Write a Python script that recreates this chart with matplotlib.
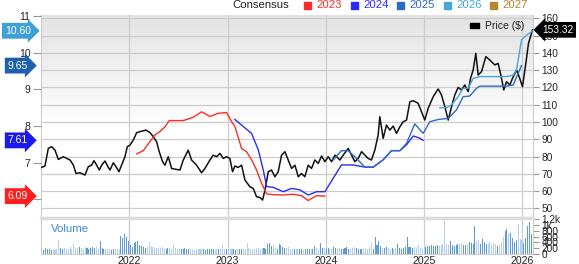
import numpy as np
import matplotlib
matplotlib.use("Agg")
import matplotlib.pyplot as plt
from matplotlib.colors import LinearSegmentedColormap
from matplotlib.transforms import blended_transform_factory

plt.rcParams['font.family'] = ['Liberation Sans', 'DejaVu Sans']

# price ($), right axis
price_t = [2021.108, 2021.142, 2021.176, 2021.210, 2021.244, 2021.278, 2021.329, 2021.363, 2021.397, 2021.431,
           2021.458, 2021.498, 2021.549, 2021.583, 2021.617, 2021.641, 2021.668, 2021.695, 2021.719, 2021.753,
           2021.787, 2021.804, 2021.838, 2021.865, 2021.895, 2021.922, 2021.956, 2021.980, 2022.007, 2022.041,
           2022.075, 2022.109, 2022.170, 2022.211, 2022.244, 2022.278, 2022.305, 2022.339, 2022.363, 2022.397,
           2022.431, 2022.482, 2022.516, 2022.550, 2022.600, 2022.634, 2022.685, 2022.736, 2022.770, 2022.821,
           2022.855, 2022.889, 2022.923, 2022.957, 2022.990, 2023.024, 2023.051, 2023.075, 2023.109, 2023.143,
           2023.177, 2023.228, 2023.262, 2023.296, 2023.330, 2023.357, 2023.381, 2023.415, 2023.448, 2023.482,
           2023.516, 2023.550, 2023.584, 2023.618, 2023.652, 2023.686, 2023.720, 2023.753, 2023.787, 2023.821,
           2023.855, 2023.889, 2023.923, 2023.957, 2023.991, 2024.025, 2024.059, 2024.093, 2024.144, 2024.177,
           2024.228, 2024.262, 2024.296, 2024.330, 2024.364, 2024.398, 2024.431, 2024.465, 2024.499, 2024.533,
           2024.550, 2024.584, 2024.618, 2024.652, 2024.686, 2024.720, 2024.754, 2024.788, 2024.822, 2024.856,
           2024.890, 2024.940, 2024.974, 2025.008, 2025.042, 2025.093, 2025.144, 2025.178, 2025.212, 2025.246,
           2025.280, 2025.313, 2025.347, 2025.381, 2025.415, 2025.449, 2025.473, 2025.500, 2025.527, 2025.551,
           2025.585, 2025.629, 2025.670, 2025.720, 2025.754, 2025.778, 2025.812, 2025.839, 2025.873, 2025.900,
           2025.941, 2025.968, 2026.002, 2026.036, 2026.063, 2026.104]
price_v = [73.7, 74.5, 84.7, 85.7, 83.7, 78.3, 79.9, 78.9, 78.0, 75.0,
           70.2, 70.6, 69.3, 74.1, 75.0, 77.6, 75.0, 72.2, 75.0, 77.4,
           73.7, 72.2, 76.4, 74.1, 71.2, 75.0, 79.9, 85.7, 86.6, 89.5,
           93.8, 94.4, 95.3, 93.8, 91.5, 88.6, 82.8, 77.0, 75.0, 79.9,
           73.1, 72.5, 72.2, 78.0, 83.7, 78.0, 75.0, 70.6, 73.1, 78.0,
           80.8, 79.9, 81.8, 78.9, 79.9, 78.9, 71.2, 74.5, 73.7, 75.0,
           66.4, 62.5, 61.5, 56.7, 56.3, 54.8, 60.6, 71.2, 72.2, 68.3,
           71.2, 80.8, 82.8, 78.0, 73.1, 75.0, 68.3, 70.2, 68.3, 75.0,
           73.1, 78.0, 76.0, 80.3, 77.0, 79.9, 77.0, 80.8, 78.0, 80.8,
           84.7, 80.8, 77.0, 78.9, 82.8, 80.8, 78.9, 78.0, 83.7, 92.4,
           103.0, 90.5, 98.2, 95.3, 97.6, 93.4, 97.2, 100.1, 101.1, 111.7,
           112.3, 110.8, 106.0, 101.1, 107.9, 114.6, 119.1, 115.6, 108.8, 101.1,
           108.8, 115.6, 120.0, 118.5, 121.4, 117.5, 125.2, 130.1, 139.7, 127.2,
           129.1, 137.8, 135.8, 133.0, 133.9, 128.1, 118.5, 123.3, 121.4, 125.2,
           130.1, 126.2, 120.4, 133.9, 145.5, 153.32]

# consensus EPS estimates, left axis
c2023_t = [2022.075, 2022.143, 2022.211, 2022.261, 2022.312, 2022.363, 2022.407, 2022.550, 2022.651, 2022.736,
           2022.821, 2022.906, 2022.990, 2023.041, 2023.075, 2023.143, 2023.194, 2023.245, 2023.296, 2023.347,
           2023.398, 2023.465, 2023.567, 2023.669, 2023.754, 2023.821, 2023.906, 2023.991]
c2023_v = [7.24, 7.33, 7.58, 7.76, 7.85, 7.98, 8.15, 8.15, 8.24, 8.39,
           8.26, 8.35, 8.37, 8.12, 7.99, 7.39, 7.30, 7.08, 6.80, 6.44,
           6.15, 6.13, 6.12, 6.14, 6.10, 5.97, 6.10, 6.09]
c2024_t = [2023.075, 2023.160, 2023.245, 2023.313, 2023.364, 2023.398, 2023.465, 2023.567, 2023.652, 2023.737,
           2023.821, 2023.906, 2023.991, 2024.076, 2024.160, 2024.279, 2024.398, 2024.483, 2024.584, 2024.669,
           2024.754, 2024.822, 2024.890, 2024.957, 2024.990]
c2024_v = [8.18, 7.99, 7.80, 7.35, 6.80, 6.35, 6.33, 6.21, 6.30, 6.26,
           6.12, 6.21, 6.21, 6.58, 6.94, 6.94, 6.88, 6.88, 7.08, 7.33,
           7.33, 7.49, 7.73, 7.67, 7.61]
c2025_t = [2024.076, 2024.160, 2024.228, 2024.313, 2024.398, 2024.483, 2024.584, 2024.669, 2024.754, 2024.822,
           2024.906, 2024.991, 2025.059, 2025.144, 2025.246, 2025.330, 2025.398, 2025.466, 2025.534, 2025.568,
           2025.670, 2025.839, 2025.907, 2025.992]
c2025_v = [7.08, 7.33, 7.33, 7.12, 6.88, 6.88, 7.08, 7.33, 7.33, 7.53,
           8.06, 7.80, 8.12, 8.18, 8.21, 8.44, 8.80, 8.82, 9.03, 9.09,
           9.09, 9.09, 9.12, 9.65]
c2026_t = [2025.161, 2025.229, 2025.280, 2025.347, 2025.398, 2025.449, 2025.500, 2025.568, 2025.670, 2025.839,
           2025.907, 2025.941, 2025.992, 2026.042, 2026.110]
c2026_v = [8.50, 8.50, 8.58, 8.80, 9.03, 9.03, 9.30, 9.35, 9.35, 9.35,
           9.39, 9.53, 10.35, 10.48, 10.60]

# weekly volume, starting Feb 2021
volume = [170, 150, 200, 160, 180, 140, 190, 150, 170, 480, 200, 190, 210,
          170, 160, 230, 180, 350, 220, 200, 240, 210, 190, 230, 200, 180,
          220, 250, 200, 230, 190, 440, 210, 180, 170, 160, 190, 150, 170,
          160, 180, 150, 630, 560, 690, 600, 460, 300, 250, 380, 420, 450,
          300, 260, 230, 200, 240, 420, 280, 230, 250, 210, 220, 200, 230,
          210, 190, 200, 220, 180, 330, 200, 170, 190, 180, 160, 200, 170,
          160, 180, 170, 150, 190, 160, 170, 180, 160, 150, 170, 190, 160,
          180, 150, 170, 190, 170, 330, 180, 160, 150, 170, 160, 180, 150,
          170, 160, 190, 170, 180, 370, 200, 180, 170, 190, 210, 200, 190,
          220, 200, 190, 350, 370, 280, 300, 210, 190, 330, 300, 240, 220,
          200, 230, 180, 170, 160, 180, 190, 170, 160, 150, 180, 170, 160,
          190, 180, 290, 200, 180, 370, 220, 200, 180, 200, 170, 190, 230,
          200, 180, 210, 190, 170, 200, 250, 180, 170, 210, 250, 200, 190,
          160, 180, 170, 200, 190, 230, 380, 180, 580, 300, 460, 260, 200,
          210, 230, 200, 190, 220, 180, 200, 330, 210, 190, 220, 240, 600,
          250, 230, 220, 240, 230, 300, 200, 180, 230, 250, 280, 270, 300,
          260, 290, 320, 280, 300, 330, 1140, 350, 300, 460, 320, 280, 300,
          350, 330, 380, 320, 300, 360, 420, 380, 340, 980, 400, 470, 360,
          520, 400, 350, 330, 420, 300, 380, 330, 280, 300, 420, 600, 780,
          860, 700, 720, 540, 420, 500, 1040, 520, 480, 380, 560, 980, 1100,
          700, 600]
vol_start = 2021.11

years = [2022, 2023, 2024, 2025, 2026]
vol_ticks = [0, 200, 400, 600, 800, 1000, 1200]
vol_labels = ['0', '200', '400', '600', '800', '1k', '1.2k']

W, H = 579, 264
fig = plt.figure(figsize=(W / 100, H / 100), dpi=100)

def fx(px):
    return px / W

def fy(py):
    return 1 - py / H

x0, x1 = 2021.1017, 2026.109
ax = fig.add_axes([fx(41), fy(217), fx(533) - fx(41), fy(15) - fy(217)])
axv = fig.add_axes([fx(41), fy(254), fx(533) - fx(41), fy(218) - fy(254)])
axL = ax.twinx()

# gradient background
grad = np.clip((np.linspace(0, 1, 256) - 0.45) / 0.55, 0, 1).reshape(-1, 1)
cmap = LinearSegmentedColormap.from_list('bg', ['#ffffff', '#e3e3e3'])
ax.imshow(grad, extent=[x0, x1, 45.0, 161.9], origin='lower', aspect='auto', cmap=cmap, zorder=0)

ax.set_xlim(x0, x1)
ax.set_ylim(45.0, 161.9)
axL.set_ylim(5.52, 11.03)
axL.set_xlim(x0, x1)

ax.set_axisbelow(True)
ax.set_yticks(range(50, 161, 10))
ax.set_xticks(years)
ax.grid(True, color='#cccccc', lw=0.9)
ax.tick_params(axis='x', length=0, labelbottom=False)
ax.yaxis.tick_right()
ax.tick_params(axis='y', right=True, left=False, labelright=True, labelleft=False,
               length=4.5, width=0.8, color='#999999', pad=1.5, labelsize=7.3, labelcolor='#222222')
for s in ax.spines.values():
    s.set_color('#cccccc')
    s.set_linewidth(0.8)
ax.spines['top'].set_visible(False)

axL.yaxis.tick_left()
axL.set_yticks([6, 7, 8, 9, 10, 11])
axL.tick_params(axis='y', left=True, right=False, labelleft=True, labelright=False,
                length=6, width=0.8, color='#999999', pad=1.5, labelsize=7.5, labelcolor='#222222')
for s in axL.spines.values():
    s.set_visible(False)

ax.plot(price_t, price_v, color='#111111', lw=1.1, zorder=3)

axL.plot(c2023_t, c2023_v, color='#ff2a2a', lw=1.0)
axL.plot(c2024_t, c2024_v, color='#2b2bff', lw=1.0)
axL.plot(c2025_t, c2025_v, color='#2e6cbf', lw=1.0)
axL.plot(c2026_t, c2026_v, color='#46a5dc', lw=1.0)

# left value tags
tr = blended_transform_factory(axL.transAxes, axL.transData)
for val, txt, col in [(10.60, '10.60', '#3fa0d6'), (9.65, '9.65', '#1f5faf'),
                      (7.61, '7.61', '#1a1aee'), (6.09, '6.09', '#ff1f1f')]:
    axL.text(-0.047, val, txt, transform=tr, ha='center', va='center', color='white',
             fontsize=7.5, zorder=10, clip_on=False,
             bbox=dict(boxstyle='rarrow,pad=0.28', fc=col, ec='none'))

# last price tag
trp = blended_transform_factory(ax.transAxes, ax.transData)
ax.text(1.05, price_v[-1], '153.32', transform=trp, ha='center', va='center', color='white',
        fontsize=7.3, zorder=10, clip_on=False,
        bbox=dict(boxstyle='larrow,pad=0.28', fc='black', ec='none'))

# volume panel
vol_x = vol_start + np.arange(len(volume)) / 52.18
p_at = np.interp(vol_x, price_t, price_v)
p_prev = np.interp(vol_x - 1 / 52.18, price_t, price_v)
bar_cols = ['#5a9bd8' if a >= b else '#b3cfee' for a, b in zip(p_at, p_prev)]
axv.bar(vol_x, volume, width=0.55 / 52.18, color=bar_cols, zorder=2)
axv.set_xlim(x0, x1)
axv.set_ylim(0, 1245)
axv.set_xticks(years)
axv.set_xticklabels([str(y) for y in years])
axv.grid(True, axis='x', color='#cccccc', lw=0.9)
axv.set_axisbelow(True)
axv.tick_params(axis='x', length=0, pad=1.2, labelsize=7.6, labelcolor='#222222')
axv.yaxis.tick_right()
axv.set_yticks(vol_ticks)
axv.set_yticklabels(vol_labels)
axv.tick_params(axis='y', length=4.5, width=0.8, color='#999999', pad=1.5, labelsize=7.3, labelcolor='#222222')
for s in axv.spines.values():
    s.set_color('#cccccc')
    s.set_linewidth(0.8)
axv.spines['top'].set_color('#dddddd')
axv.spines['top'].set_linewidth(2.5)
fig.text(fx(51), fy(229), 'Volume', color='#3b8bd0', fontsize=8.2, ha='left', va='center')

# top legend
fig.text(fx(289), fy(5.5), 'Consensus', fontsize=8.2, ha='right', va='center', color='#222222')
for px, lab, col in [(304, '2023', '#ff2a2a'), (351, '2024', '#2b2bff'), (397, '2025', '#2e6cbf'),
                     (444, '2026', '#46a5dc'), (490, '2027', '#b5852f')]:
    fig.patches.append(plt.Rectangle((fx(px), fy(9)), fx(7), fy(2) - fy(9), transform=fig.transFigure,
                                     color=col, figure=fig))
    fig.text(fx(px + 12), fy(5.5), lab, fontsize=8.2, ha='left', va='center', color=col)

# price legend
fig.patches.append(plt.Rectangle((fx(470), fy(28)), fx(9), fy(23.5) - fy(28), transform=fig.transFigure,
                                 color='black', figure=fig))
fig.text(fx(485), fy(25.8), 'Price ($)', fontsize=7.5, ha='left', va='center', color='#222222')

fig.savefig('out.png', dpi=100)
